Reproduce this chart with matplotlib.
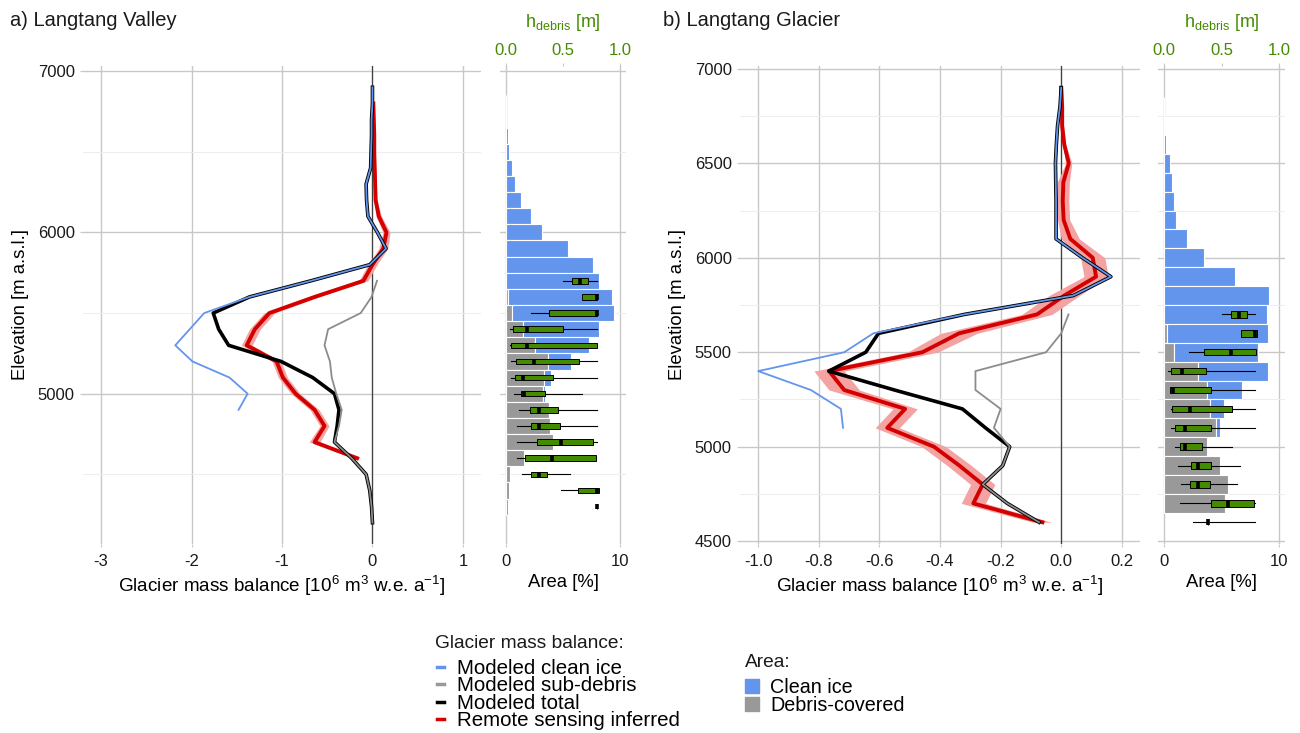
import numpy as np
import matplotlib
matplotlib.use('Agg')
import matplotlib.pyplot as plt
from matplotlib.lines import Line2D
from matplotlib.patches import Patch

plt.rcParams['font.family'] = ['Liberation Sans', 'DejaVu Sans']
plt.rcParams['mathtext.default'] = 'regular'
plt.rcParams['axes.unicode_minus'] = False

nan = np.nan

# ---------------- a) Langtang Valley ----------------
# elevation bands [m a.s.l.], mass balance in 10^6 m3 w.e. a-1
elev_a = [6900, 6800, 6700, 6600, 6500, 6400, 6300, 6200, 6100, 6000,
          5900, 5800, 5700, 5600, 5500, 5400, 5300, 5200, 5100, 5000,
          4900, 4800, 4700, 4600, 4500, 4400, 4300, 4200]
clean_a = [0.00, 0.00, -0.01, -0.01, -0.015, -0.02, -0.07, -0.065, -0.05, 0.055,
           0.15, -0.03, -0.68, -1.36, -1.86, -2.02, -2.18, -1.99, -1.58, -1.38,
           -1.48, nan, nan, nan, nan, nan, nan, nan]
debris_a = [nan, nan, nan, nan, nan, nan, nan, nan, nan, nan,
            nan, nan, 0.05, -0.01, -0.13, -0.49, -0.53, -0.47, -0.45, -0.40,
            -0.34, -0.37, -0.42, -0.23, -0.07, -0.03, -0.01, 0.00]
total_a = [0.00, 0.00, -0.01, -0.01, -0.015, -0.02, -0.07, -0.065, -0.05, 0.055,
           0.15, -0.03, -0.68, -1.36, -1.76, -1.70, -1.59, -1.01, -0.66, -0.42,
           -0.37, -0.39, -0.42, -0.23, -0.07, -0.03, -0.01, 0.00]
rs_a = [nan, 0.01, 0.015, 0.02, 0.02, 0.025, 0.03, 0.035, 0.07, 0.155,
        0.12, 0.00, -0.10, -0.64, -1.14, -1.30, -1.39, -1.06, -0.99, -0.85,
        -0.64, -0.53, -0.64, -0.17, nan, nan, nan, nan]
rs_err_a = [nan, 0.01, 0.01, 0.01, 0.01, 0.01, 0.01, 0.015, 0.03, 0.04,
            0.05, 0.05, 0.05, 0.05, 0.06, 0.06, 0.06, 0.05, 0.05, 0.05,
            0.05, 0.05, 0.06, 0.04, nan, nan, nan, nan]

# area per band [%]
area_elev_a = [6800, 6700, 6600, 6500, 6400, 6300, 6200, 6100, 6000, 5900,
               5800, 5700, 5600, 5500, 5400, 5300, 5200, 5100, 5000, 4900,
               4800, 4700, 4600, 4500, 4400, 4300]
clean_area_a = [0.03, 0.05, 0.17, 0.32, 0.52, 0.82, 1.34, 2.24, 3.15, 5.4,
                7.6, 8.1, 9.1, 8.9, 6.55, 4.7, 2.0, 0.6, 0.2, 0.1,
                0.06, 0, 0, 0, 0, 0]
debris_area_a = [0, 0, 0, 0, 0, 0, 0, 0, 0, 0,
                 0, 0, 0.17, 0.58, 1.55, 2.57, 3.73, 3.38, 3.24, 3.8,
                 3.88, 4.17, 1.63, 0.38, 0.32, 0.17]

# debris thickness [m] per band
box_elev_a = [5700, 5600, 5500, 5400, 5300, 5200, 5100, 5000, 4900, 4800,
              4700, 4600, 4500, 4400, 4300]
hd_lo_a = [0.50, 0.67, 0.22, 0.04, 0.04, 0.05, 0.05, 0.07, 0.12, 0.10, 0.10, 0.10, 0.14, 0.48, 0.80]
hd_q1_a = [0.58, 0.67, 0.38, 0.06, 0.05, 0.09, 0.08, 0.13, 0.21, 0.22, 0.27, 0.17, 0.22, 0.63, 0.80]
hd_med_a = [0.65, 0.80, 0.80, 0.19, 0.19, 0.25, 0.15, 0.16, 0.29, 0.29, 0.48, 0.40, 0.29, 0.80, 0.80]
hd_q3_a = [0.72, 0.80, 0.80, 0.50, 0.80, 0.64, 0.41, 0.34, 0.46, 0.47, 0.76, 0.79, 0.36, 0.81, 0.80]
hd_hi_a = [0.80, 0.80, 0.80, 0.80, 0.80, 0.80, 0.80, 0.67, 0.80, 0.80, 0.80, 0.79, 0.56, 0.81, 0.80]

# ---------------- b) Langtang Glacier ----------------
elev_b = [6900, 6800, 6700, 6600, 6500, 6400, 6300, 6200, 6100, 6000,
          5900, 5800, 5700, 5600, 5500, 5400, 5300, 5200, 5100, 5000,
          4900, 4800, 4700, 4600]
clean_b = [0.0, -0.004, -0.012, -0.016, -0.019, -0.018, -0.017, -0.017, -0.017, 0.07,
           0.164, 0.04, -0.32, -0.62, -0.716, -1.0, -0.826, -0.727, -0.72, nan,
           nan, nan, nan, nan]
debris_b = [nan, nan, nan, nan, nan, nan, nan, nan, nan, nan,
            nan, nan, 0.024, 0.0, -0.05, -0.283, -0.283, -0.20, -0.222, -0.17,
            -0.193, -0.259, -0.178, -0.073]
total_b = [0.0, -0.004, -0.012, -0.016, -0.019, -0.018, -0.017, -0.017, -0.017, 0.07,
           0.164, 0.04, -0.32, -0.603, -0.645, -0.767, -0.55, -0.326, -0.25, -0.17,
           -0.193, -0.259, -0.178, -0.073]
rs_b = [0.0, 0.003, 0.003, 0.01, 0.025, 0.007, 0.005, 0.008, 0.03, 0.104,
        0.115, 0.01, -0.08, -0.337, -0.458, -0.766, -0.716, -0.515, -0.574, -0.42,
        -0.336, -0.259, -0.29, -0.062]
rs_err_b = [0.005, 0.005, 0.005, 0.005, 0.01, 0.02, 0.02, 0.02, 0.03, 0.04,
            0.04, 0.05, 0.05, 0.06, 0.05, 0.05, 0.05, 0.04, 0.04, 0.04,
            0.04, 0.04, 0.04, 0.03]

area_elev_b = [6800, 6700, 6600, 6500, 6400, 6300, 6200, 6100, 6000, 5900,
               5800, 5700, 5600, 5500, 5400, 5300, 5200, 5100, 5000, 4900,
               4800, 4700]
clean_area_b = [0.03, 0.1, 0.23, 0.52, 0.72, 0.89, 1.03, 2.0, 3.48, 6.18,
                9.14, 8.97, 8.73, 7.31, 6.09, 3.04, 1.21, 0.29, 0, 0,
                0, 0]
debris_area_b = [0, 0, 0, 0, 0, 0, 0, 0, 0, 0,
                 0, 0, 0.32, 0.89, 2.96, 3.74, 4.02, 4.54, 3.74, 4.91,
                 5.55, 5.26]

box_elev_b = [5700, 5600, 5500, 5400, 5300, 5200, 5100, 5000, 4900, 4800, 4700, 4600]
hd_lo_b = [0.50, 0.67, 0.22, 0.04, 0.05, 0.06, 0.06, 0.10, 0.12, 0.15, 0.14, 0.25]
hd_q1_b = [0.58, 0.67, 0.35, 0.06, 0.05, 0.07, 0.10, 0.14, 0.24, 0.23, 0.41, 0.38]
hd_med_b = [0.65, 0.79, 0.58, 0.16, 0.08, 0.23, 0.18, 0.18, 0.30, 0.30, 0.56, 0.38]
hd_q3_b = [0.72, 0.81, 0.80, 0.37, 0.41, 0.59, 0.41, 0.33, 0.41, 0.40, 0.78, 0.38]
hd_hi_b = [0.79, 0.81, 0.80, 0.79, 0.79, 0.79, 0.79, 0.59, 0.66, 0.63, 0.79, 0.79]

BLUE = '#6495ed'
GREY_LINE = '#8c8c8c'
GREY_BAR = '#999999'
RED = '#d40000'
PINK = '#f4a3a3'
GREEN = '#458b00'
GRID = '#c8c8c8'
MINOR = '#ededed'
TXT = '#1a1a1a'

W, H = 1300, 733
fig = plt.figure(figsize=(W / 100, H / 100), dpi=100)


def box(l, t, r, b):
    return [l / W, 1 - b / H, (r - l) / W, (b - t) / H]


def style(ax, ylim, ymajor, yminor):
    for s in ax.spines.values():
        s.set_visible(False)
    ax.set_ylim(*ylim)
    ax.set_yticks(ymajor)
    ax.set_yticks(yminor, minor=True)
    ax.grid(True, which='major', color=GRID, lw=1.0)
    ax.yaxis.grid(True, which='minor', color=MINOR, lw=0.7)
    ax.set_axisbelow(True)
    ax.tick_params(which='major', length=2.5, color=GRID, labelsize=12,
                   labelcolor=TXT)
    ax.tick_params(axis='x', pad=5)
    ax.tick_params(which='minor', length=0)


def balance_panel(ax, elev, clean, debris, total, rs, err):
    elev = np.array(elev)
    rs = np.array(rs)
    err = np.array(err)
    ax.axvline(0, color='#404040', lw=0.9, zorder=1)
    ax.fill_betweenx(elev, rs - err, rs + err, color=PINK, lw=0, zorder=2)
    ax.plot(rs, elev, color=RED, lw=2.8, zorder=3)
    ax.plot(total, elev, color='black', lw=2.6, zorder=4)
    ax.plot(debris, elev, color=GREY_LINE, lw=1.3, zorder=5)
    ax.plot(clean, elev, color=BLUE, lw=1.3, zorder=6)
    ax.set_xlabel(r'Glacier mass balance [10$^6$ m$^3$ w.e. a$^{-1}$]',
                  fontsize=13.6, labelpad=3)
    ax.set_ylabel('Elevation [m a.s.l.]', fontsize=13.3, labelpad=6)


def area_panel(ax, elev, clean, debris, bstats):
    elev = np.array(elev)
    clean = np.array(clean)
    debris = np.array(debris)
    d = debris > 0
    c = clean > 0
    ax.barh(elev[d], debris[d], height=100, color=GREY_BAR,
            edgecolor='white', lw=0.8)
    ax.barh(elev[c], clean[c], left=debris[c], height=100, color=BLUE,
            edgecolor='white', lw=0.8)
    ax.set_xlim(-0.5, 10.5)
    ax.set_xticks([0, 10])
    ax.tick_params(axis='y', length=0, labelleft=False)
    ax.set_xlabel('Area [%]', fontsize=13.3, labelpad=3)

    # debris thickness on the secondary (top) axis
    axh = ax.twiny()
    pos, lo, q1, med, q3, hi = bstats
    stats = [dict(whislo=a, q1=b, med=m, q3=e, whishi=f)
             for a, b, m, e, f in zip(lo, q1, med, q3, hi)]
    axh.bxp(stats, positions=pos, widths=34, orientation='horizontal',
            patch_artist=True, showcaps=False, showfliers=False,
            manage_ticks=False,
            boxprops=dict(facecolor=GREEN, edgecolor='black', lw=0.7),
            medianprops=dict(color='black', lw=2.6, solid_capstyle='butt'),
            whiskerprops=dict(color='black', lw=0.8))
    axh.set_xlim(-0.05, 1.05)
    axh.set_xticks([0, 0.5, 1.0])
    axh.set_xticklabels(['0.0', '0.5', '1.0'])
    for s in axh.spines.values():
        s.set_visible(False)
    axh.tick_params(axis='x', length=2.5, color=GRID, labelsize=12,
                    labelcolor=GREEN, pad=3)
    axh.set_xlabel(r'h$_{debris}$ [m]', fontsize=13, color=GREEN, labelpad=12)
    return axh


ylim_a = (4068, 7032)
ylim_b = (4485, 7015)

ax_a = fig.add_axes(box(83, 66, 481, 544))
bar_a = fig.add_axes(box(500, 66, 626, 544))
ax_b = fig.add_axes(box(740, 66, 1140, 544))
bar_b = fig.add_axes(box(1158, 66, 1285, 544))

for ax in (ax_a, bar_a):
    style(ax, ylim_a, [5000, 6000, 7000], [4500, 5500, 6500])
for ax in (ax_b, bar_b):
    style(ax, ylim_b, [4500, 5000, 5500, 6000, 6500, 7000],
          [4750, 5250, 5750, 6250, 6750])

balance_panel(ax_a, elev_a, clean_a, debris_a, total_a, rs_a, rs_err_a)
ax_a.set_xlim(-3.2, 1.2)
ax_a.set_xticks([-3, -2, -1, 0, 1])

balance_panel(ax_b, elev_b, clean_b, debris_b, total_b, rs_b, rs_err_b)
ax_b.set_xlim(-1.06, 0.26)
ax_b.set_xticks([-1.0, -0.8, -0.6, -0.4, -0.2, 0.0, 0.2])
ax_b.set_xticklabels(['-1.0', '-0.8', '-0.6', '-0.4', '-0.2', '0.0', '0.2'])

area_panel(bar_a, area_elev_a, clean_area_a, debris_area_a,
           (box_elev_a, hd_lo_a, hd_q1_a, hd_med_a, hd_q3_a, hd_hi_a))
area_panel(bar_b, area_elev_b, clean_area_b, debris_area_b,
           (box_elev_b, hd_lo_b, hd_q1_b, hd_med_b, hd_q3_b, hd_hi_b))

fig.text(10 / W, 1 - 26 / H, 'a) Langtang Valley', fontsize=14.5, color=TXT,
         va='baseline')
fig.text(663 / W, 1 - 26 / H, 'b) Langtang Glacier', fontsize=14.5, color=TXT,
         va='baseline')

# legends
fig.text(435 / W, 1 - 648 / H, 'Glacier mass balance:', fontsize=13.8,
         color=TXT, va='baseline')
mb_handles = [Line2D([], [], color=BLUE, lw=2.5),
              Line2D([], [], color='#999999', lw=2.5),
              Line2D([], [], color='black', lw=2.5),
              Line2D([], [], color=RED, lw=2.5)]
mb_labels = ['Modeled clean ice', 'Modeled sub-debris', 'Modeled total',
             'Remote sensing inferred']
fig.legend(mb_handles, mb_labels, loc='upper left',
           bbox_to_anchor=(437 / W, 1 - 659 / H),
           frameon=False, fontsize=14.8, handlelength=0.34,
           handletextpad=0.63, labelspacing=-0.08, borderpad=0,
           borderaxespad=0)

fig.text(745 / W, 1 - 667 / H, 'Area:', fontsize=13.8, color=TXT,
         va='baseline')
area_handles = [Patch(color=BLUE), Patch(color=GREY_BAR)]
fig.legend(area_handles, ['Clean ice', 'Debris-covered'], loc='upper left',
           bbox_to_anchor=(745 / W, 1 - 678 / H),
           frameon=False, fontsize=14.2, handlelength=0.71, handleheight=0.71,
           handletextpad=0.56, labelspacing=-0.05, borderpad=0,
           borderaxespad=0)

fig.savefig('out.png', dpi=100)
